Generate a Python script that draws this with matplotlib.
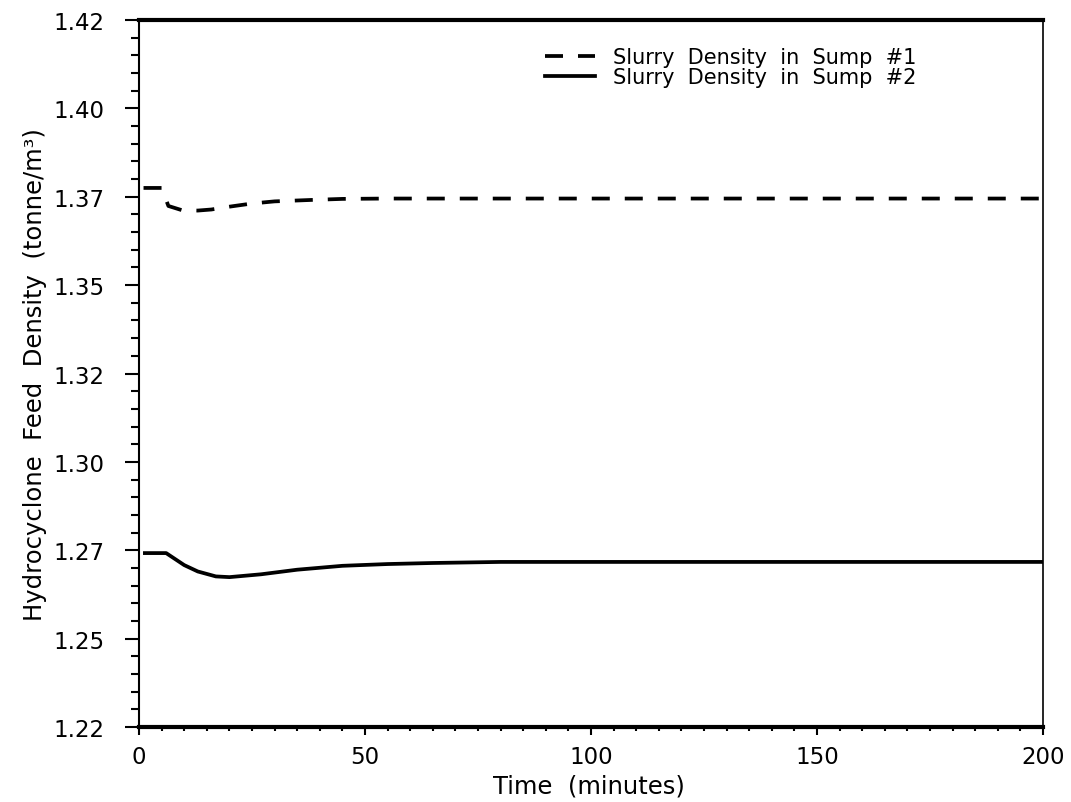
import numpy as np
import matplotlib
matplotlib.use("Agg")
import matplotlib.pyplot as plt
from matplotlib.ticker import FixedLocator, MultipleLocator

# sump #1 slurry density (dashed)
t_sump1 = [1, 5, 6.5, 9.5, 13, 16, 20, 25, 30, 38, 45, 55, 200]
rho_sump1 = [1.3725, 1.3725, 1.3674, 1.3662, 1.3661, 1.3664, 1.3672,
             1.3681, 1.3687, 1.3691, 1.3694, 1.3695, 1.3695]

# sump #2 slurry density (solid)
t_sump2 = [1.3, 6, 8, 10, 13, 17, 20, 27, 35, 45, 55, 65, 80, 200]
rho_sump2 = [1.2692, 1.2692, 1.2675, 1.2658, 1.2640, 1.2626, 1.2624,
             1.2632, 1.2645, 1.2656, 1.2661, 1.2664, 1.2667, 1.2667]

yticks = [1.22, 1.245, 1.27, 1.295, 1.32, 1.345, 1.37, 1.395, 1.42]
ytick_labels = ["1.22", "1.25", "1.27", "1.30", "1.32", "1.35", "1.37", "1.40", "1.42"]
xticks = [0, 50, 100, 150, 200]
xtick_labels = ["0", "50", "100", "150", "200"]

fig = plt.figure(figsize=(10.71, 8.03), dpi=100)
ax = fig.add_axes([0.1298, 0.0934, 0.8441, 0.8804])

ax.plot(t_sump1, rho_sump1, color="black", lw=2.7, dashes=(4.8, 4.0),
        label="Slurry  Density  in  Sump  #1")
ax.plot(t_sump2, rho_sump2, color="black", lw=2.7,
        label="Slurry  Density  in  Sump  #2")

ax.set_xlim(0, 200)
ax.set_ylim(1.22, 1.42)

ax.yaxis.set_major_locator(FixedLocator(yticks))
ax.set_yticklabels(ytick_labels)
ax.yaxis.set_minor_locator(MultipleLocator(0.005))
ax.xaxis.set_major_locator(FixedLocator(xticks))
ax.set_xticklabels(xtick_labels)
ax.xaxis.set_minor_locator(MultipleLocator(5))

ax.tick_params(axis="y", which="major", direction="out", length=10, width=1.5,
               labelsize=16.5, pad=15)
ax.tick_params(axis="y", which="minor", direction="out", length=6, width=1.5)
ax.tick_params(axis="x", which="major", direction="out", length=6, width=1.5,
               labelsize=16.5, pad=7)
ax.tick_params(axis="x", which="minor", direction="out", length=3, width=1.5)
ax.tick_params(right=False, top=False, which="both")

ax.spines["top"].set_linewidth(3)
ax.spines["bottom"].set_linewidth(3)
ax.spines["left"].set_linewidth(1.5)
ax.spines["right"].set_linewidth(1.2)

ax.set_xlabel("Time  (minutes)", fontsize=17.5)
ax.xaxis.set_label_coords(0.498, -0.066)
ax.set_ylabel("Hydrocyclone  Feed  Density  (tonne/m³)", fontsize=17.5)
ax.yaxis.set_label_coords(-0.102, 0.5)

ax.legend(loc="upper right", bbox_to_anchor=(0.86, 0.962), frameon=False,
          fontsize=15, handlelength=2.4, handletextpad=0.85,
          labelspacing=0.0, borderpad=0, borderaxespad=0)

fig.savefig("out.png", dpi=100)
